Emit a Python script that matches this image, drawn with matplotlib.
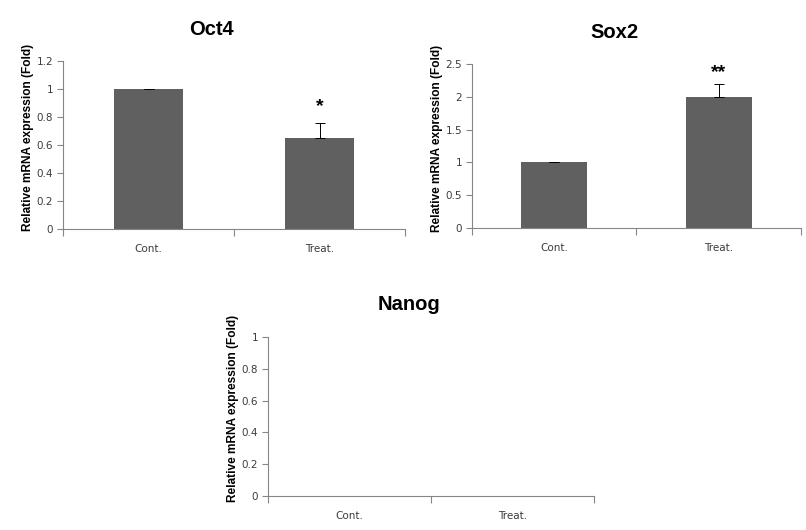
import matplotlib
matplotlib.use("Agg")
import matplotlib.pyplot as plt
from matplotlib.ticker import FixedLocator, FixedFormatter

# values
groups = ["Cont.", "Treat."]
oct4_mean = [1.0, 0.65]
oct4_err = [0.003, 0.105]
sox2_mean = [1.0, 1.99]
sox2_err = [0.005, 0.21]
nanog_mean = []   # no bars in the Nanog panel
nanog_err = []
oct4_stars = ["", "*"]
sox2_stars = ["", "**"]

DPI = 100
fig = plt.figure(figsize=(8.06, 5.30), dpi=DPI)

BAR = "#606060"
GREY = "#868686"
TXT = "#3c3c3c"


def px2pt(px):
    return px * 72.0 / DPI


def panel(rect, title, means, errs, stars, ymax, ystep, star_off):
    ax = fig.add_axes(rect)
    for s in ["top", "right"]:
        ax.spines[s].set_visible(False)
    for s in ["left", "bottom"]:
        ax.spines[s].set_color(GREY)
        ax.spines[s].set_linewidth(0.8)

    ax.set_xlim(0, len(groups))
    ax.set_ylim(0, ymax)

    centers = [i + 0.5 for i in range(len(groups))]
    if means:
        ax.bar(centers, means, width=0.4, color=BAR, zorder=2)
        ax.errorbar(centers, means, yerr=[[0] * len(errs), errs], fmt="none",
                    ecolor="black", elinewidth=0.7, capsize=3.5, capthick=0.7, zorder=3)
        for c, m, e, st in zip(centers, means, errs, stars):
            if st:
                ax.annotate(st, xy=(c, m + e), xytext=(0, px2pt(star_off)),
                            textcoords="offset points", ha="center", va="baseline",
                            fontsize=14, fontweight="bold", family="Liberation Sans")

    # y ticks
    n = int(round(ymax / ystep))
    yt = [round(i * ystep, 3) for i in range(n + 1)]
    ax.yaxis.set_major_locator(FixedLocator(yt))
    ax.yaxis.set_major_formatter(FixedFormatter(["%g" % v for v in yt]))
    ax.tick_params(axis="y", direction="out", length=4, width=0.8, color=GREY,
                   labelsize=7.5, labelcolor=TXT, pad=3)

    # x ticks: marks at category edges, labels at centers
    ax.xaxis.set_major_locator(FixedLocator(list(range(len(groups) + 1))))
    ax.xaxis.set_major_formatter(FixedFormatter([""] * (len(groups) + 1)))
    ax.xaxis.set_minor_locator(FixedLocator(centers))
    ax.xaxis.set_minor_formatter(FixedFormatter(groups))
    ax.tick_params(axis="x", which="major", direction="out", length=5, width=0.8, color=GREY)
    ax.tick_params(axis="x", which="minor", length=0, labelsize=7.5, labelcolor=TXT, pad=10.5)

    ax.annotate(title, xy=(0.433, 1.0), xycoords="axes fraction",
                xytext=(0, px2pt(32)), textcoords="offset points",
                ha="center", va="center", fontsize=14.5, fontweight="bold",
                family="Liberation Sans")
    ax.annotate("Relative mRNA expression (Fold)", xy=(0.0, 0.5), xycoords="axes fraction",
                xytext=(px2pt(-35), px2pt(8)), textcoords="offset points",
                ha="center", va="center", rotation=90, fontsize=8.6, fontweight="bold",
                family="Liberation Sans")
    return ax


panel([0.0782, 0.5679, 0.4243, 0.3170], "Oct4", oct4_mean, oct4_err, oct4_stars, 1.2, 0.2, 12)
panel([0.5856, 0.5698, 0.4082, 0.3094], "Sox2", sox2_mean, sox2_err, sox2_stars, 2.5, 0.5, 7)
panel([0.3325, 0.0642, 0.4045, 0.3000], "Nanog", nanog_mean, nanog_err, [], 1.0, 0.2, 0)

fig.savefig("out.png", dpi=DPI)
